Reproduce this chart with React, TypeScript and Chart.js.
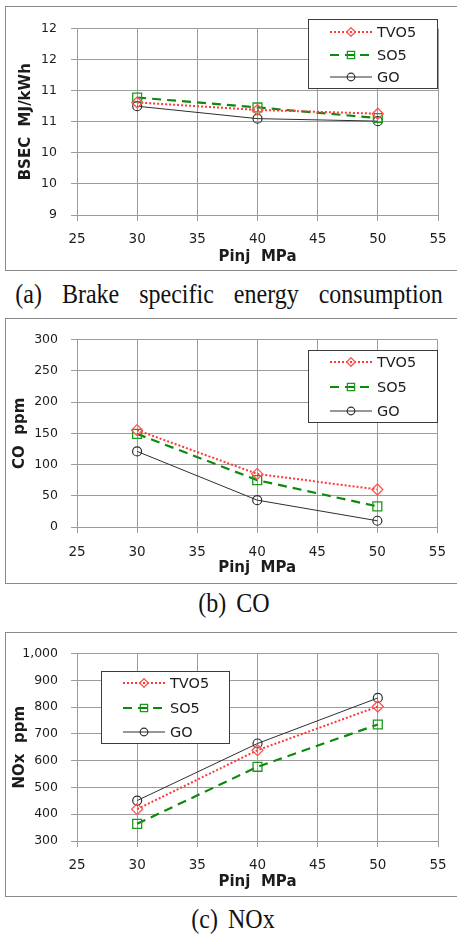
import React, { useEffect, useRef } from 'react';
import { Chart, registerables } from 'chart.js';

Chart.register(...registerables);

// ---------- data ----------
const seriesNames = ['TVO5', 'SO5', 'GO'];
const pinj = [30, 40, 50];
const xTicks = [25, 30, 35, 40, 45, 50, 55];
const xTickLabels = ['25', '30', '35', '40', '45', '50', '55'];

const bsecTVO5 = [10.81, 10.69, 10.63];
const bsecSO5 = [10.89, 10.73, 10.56];
const bsecGO = [10.75, 10.55, 10.51];
const bsecTicks = [9, 9.5, 10, 10.5, 11, 11.5, 12];
const bsecTickLabels = ['9', '10', '10', '11', '11', '12', '12'];

const coTVO5 = [155, 85, 60];
const coSO5 = [149, 75, 33];
const coGO = [121, 43, 10];
const coTicks = [0, 50, 100, 150, 200, 250, 300];
const coTickLabels = ['0', '50', '100', '150', '200', '250', '300'];

const noxTVO5 = [419, 639, 802];
const noxSO5 = [364, 577, 735];
const noxGO = [451, 664, 834];
const noxTicks = [300, 400, 500, 600, 700, 800, 900, 1000];
const noxTickLabels = ['300', '400', '500', '600', '700', '800', '900', '1,000'];

const xTitle = 'Pinj  MPa';

// ---------- styles ----------
const GRID = '#9c9c9c';
const TEXT = '#1c1c1c';
const SANS = '"DejaVu Sans", Verdana, sans-serif';

const seriesStyles = [
  { borderColor: '#ff3838', borderWidth: 2, borderDash: [2, 2], pointStyle: 'rectRot', pointRadius: 5.5, pointBorderColor: '#ff5555', pointBorderWidth: 1.3 },
  { borderColor: '#0b8a0b', borderWidth: 2.2, borderDash: [9, 6], pointStyle: 'rect', pointRadius: 6.3, pointBorderColor: '#199a19', pointBorderWidth: 1.3 },
  { borderColor: '#2e2e2e', borderWidth: 1, borderDash: [], pointStyle: 'circle', pointRadius: 4.5, pointBorderColor: '#2e2e2e', pointBorderWidth: 1.2 },
];

const boxLegend = {
  id: 'boxLegend',
  afterDatasetsDraw(chart: any, _args: any, opts: any) {
    const ctx = chart.ctx as CanvasRenderingContext2D;
    const { x, y, w, h, rows, lineX, lineLen, textX } = opts;
    ctx.save();
    ctx.fillStyle = '#ffffff';
    ctx.fillRect(x, y, w, h);
    ctx.strokeStyle = '#3c3c3c';
    ctx.lineWidth = 1;
    ctx.strokeRect(x + 0.5, y + 0.5, w - 1, h - 1);
    chart.data.datasets.forEach((ds: any, i: number) => {
      const ry = y + rows[i];
      ctx.beginPath();
      ctx.setLineDash(ds.borderDash || []);
      ctx.strokeStyle = ds.borderColor;
      ctx.lineWidth = ds.borderWidth;
      ctx.moveTo(x + lineX, ry);
      ctx.lineTo(x + lineX + lineLen, ry);
      ctx.stroke();
      ctx.setLineDash([]);
      const cx = x + lineX + lineLen / 2;
      ctx.strokeStyle = ds.pointBorderColor;
      ctx.lineWidth = ds.pointBorderWidth;
      ctx.beginPath();
      if (ds.pointStyle === 'rectRot') {
        const r = 4.3;
        ctx.moveTo(cx, ry - r);
        ctx.lineTo(cx + r, ry);
        ctx.lineTo(cx, ry + r);
        ctx.lineTo(cx - r, ry);
        ctx.closePath();
      } else if (ds.pointStyle === 'rect') {
        const s = 3.6;
        ctx.rect(cx - s, ry - s, 2 * s, 2 * s);
      } else {
        ctx.arc(cx, ry, 3.8, 0, Math.PI * 2);
      }
      ctx.stroke();
      ctx.fillStyle = TEXT;
      ctx.font = `14.5px ${SANS}`;
      ctx.textBaseline = 'middle';
      ctx.textAlign = 'left';
      ctx.fillText(ds.label, x + textX, ry + 1);
    });
    ctx.restore();
  },
};

type PanelProps = {
  frameTop: number;
  frameHeight: number;
  values: number[][];
  yTicks: number[];
  yTickLabels: string[];
  yTitle: string;
  padTop: number;
  xScaleH: number;
  xTickPad: number;
  xTitlePad: number;
  yTitlePad: number;
  yTickPad: number;
  legend: any;
};

function Panel(p: PanelProps) {
  const ref = useRef<HTMLCanvasElement>(null);
  const canvasH = p.frameHeight - 2;
  useEffect(() => {
    const canvas = ref.current!;
    const datasets = seriesNames.map((name, si) => ({
      label: name,
      data: pinj.map((x, i) => ({ x, y: p.values[si][i] })),
      backgroundColor: 'rgba(0,0,0,0)',
      pointBackgroundColor: 'rgba(0,0,0,0)',
      tension: 0,
      ...seriesStyles[si],
    }));
    const chart = new Chart(canvas, {
      type: 'line',
      data: { datasets },
      plugins: [boxLegend],
      options: {
        responsive: false,
        animation: false,
        events: [],
        layout: { padding: { top: p.padTop, right: 19, left: 0, bottom: 0 } },
        plugins: {
          legend: { display: false },
          tooltip: { enabled: false },
          boxLegend: p.legend,
        } as any,
        scales: {
          x: {
            type: 'linear',
            min: xTicks[0],
            max: xTicks[xTicks.length - 1],
            afterBuildTicks: (scale: any) => {
              scale.ticks = xTicks.map((v) => ({ value: v }));
            },
            afterFit: (scale: any) => {
              scale.height = p.xScaleH;
            },
            grid: { color: GRID, lineWidth: 1, tickLength: 6, drawTicks: true },
            border: { display: true, color: GRID, width: 1 },
            ticks: {
              autoSkip: false,
              maxRotation: 0,
              padding: p.xTickPad,
              color: TEXT,
              font: { family: SANS, size: 13.5 },
              callback: (v: any) => xTickLabels[xTicks.indexOf(Number(v))] ?? '',
            },
            title: {
              display: true,
              text: xTitle,
              color: TEXT,
              font: { family: SANS, size: 15, weight: 'bold' },
              padding: { top: 0, bottom: p.xTitlePad },
            },
          },
          y: {
            type: 'linear',
            min: p.yTicks[0],
            max: p.yTicks[p.yTicks.length - 1],
            afterBuildTicks: (scale: any) => {
              scale.ticks = p.yTicks.map((v) => ({ value: v }));
            },
            afterFit: (scale: any) => {
              scale.width = 71;
            },
            grid: { color: GRID, lineWidth: 1, tickLength: 6, drawTicks: true },
            border: { display: true, color: GRID, width: 1 },
            ticks: {
              autoSkip: false,
              padding: p.yTickPad,
              color: TEXT,
              font: { family: SANS, size: 12.5 },
              callback: (v: any) => {
                const idx = p.yTicks.findIndex((t) => Math.abs(t - Number(v)) < 1e-9);
                return idx >= 0 ? p.yTickLabels[idx] : '';
              },
            },
            title: {
              display: true,
              text: p.yTitle,
              color: TEXT,
              font: { family: SANS, size: 15, weight: 'bold' },
              padding: { top: p.yTitlePad, bottom: 0 },
            },
          },
        },
      } as any,
    });
    return () => chart.destroy();
  }, []);
  return (
    <>
      <div
        style={{
          position: 'absolute',
          left: 5,
          top: p.frameTop,
          width: 460,
          height: p.frameHeight,
          boxSizing: 'border-box',
          border: '1px solid #8a8a8a',
          background: '#fff',
        }}
      />
      <canvas
        ref={ref}
        width={451}
        height={canvasH}
        style={{ position: 'absolute', left: 6, top: p.frameTop + 1, width: 451, height: canvasH }}
      />
    </>
  );
}

function Caption({ text, top, center, spacing }: { text: string; top: number; center: number; spacing: number }) {
  return (
    <div
      style={{
        position: 'absolute',
        top,
        left: center,
        transform: 'translateX(-50%) scaleY(1.12)',
        transformOrigin: '50% 80%',
        whiteSpace: 'pre',
        fontFamily: '"Liberation Serif", "Times New Roman", serif',
        fontSize: 24,
        lineHeight: '24px',
        wordSpacing: spacing,
        color: '#111',
      }}
    >
      {text}
    </div>
  );
}

export default function App() {
  return (
    <div style={{ position: 'absolute', left: 0, top: 0, width: 457, height: 934, overflow: 'hidden', background: '#fff' }}>
      <Panel
        frameTop={6}
        frameHeight={265}
        values={[bsecTVO5, bsecSO5, bsecGO]}
        yTicks={bsecTicks}
        yTickLabels={bsecTickLabels}
        yTitle="BSEC  MJ/kWh"
        padTop={10}
        xScaleH={55}
        xTickPad={10}
        xTitlePad={4}
        yTitlePad={11}
        yTickPad={14}
        legend={{ x: 302, y: 12, w: 130, h: 70, rows: [13, 36, 58], lineX: 22, lineLen: 42, textX: 69 }}
      />
      <Caption text="(a)  Brake  specific  energy  consumption" top={283} center={229} spacing={4} />
      <Panel
        frameTop={318}
        frameHeight={266}
        values={[coTVO5, coSO5, coGO]}
        yTicks={coTicks}
        yTickLabels={coTickLabels}
        yTitle="CO  ppm"
        padTop={9}
        xScaleH={56}
        xTickPad={11}
        xTitlePad={6}
        yTitlePad={5}
        yTickPad={13}
        legend={{ x: 302, y: 31, w: 130, h: 73, rows: [12, 37, 61], lineX: 22, lineLen: 42, textX: 69 }}
      />
      <Caption text="(b)  CO" top={592} center={234} spacing={-1} />
      <Panel
        frameTop={632}
        frameHeight={265}
        values={[noxTVO5, noxSO5, noxGO]}
        yTicks={noxTicks}
        yTickLabels={noxTickLabels}
        yTitle="NOx  ppm"
        padTop={8}
        xScaleH={55}
        xTickPad={10}
        xTitlePad={5}
        yTitlePad={5}
        yTickPad={13}
        legend={{ x: 95, y: 38, w: 129, h: 73, rows: [12, 37, 61], lineX: 22, lineLen: 42, textX: 69 }}
      />
      <Caption text="(c)  NOx" top={908} center={233} spacing={-1} />
    </div>
  );
}
